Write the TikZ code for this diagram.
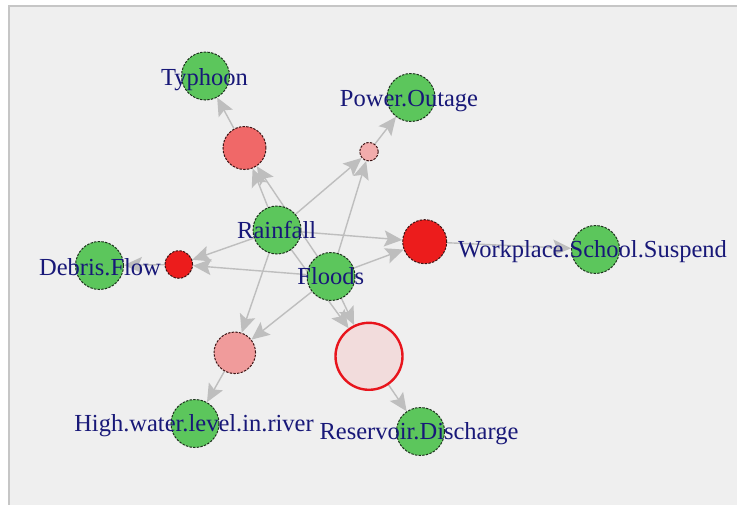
\documentclass[tikz,border=0pt]{standalone}
\usepackage{fontspec}
\setmainfont{Liberation Serif}
\usetikzlibrary{arrows.meta}
\pgfdeclarelayer{back}
\pgfsetlayers{back,main}

\definecolor{panelgray}{RGB}{239,239,239}
\definecolor{panelline}{RGB}{198,198,198}
\definecolor{itemgreen}{RGB}{92,198,92}
\definecolor{itemline}{RGB}{30,50,30}
\definecolor{ruleline}{RGB}{60,20,20}
\definecolor{edgegray}{RGB}{190,190,190}
\definecolor{labelblue}{RGB}{24,24,120}
\definecolor{ruleA}{RGB}{240,104,104}
\definecolor{ruleB}{RGB}{242,172,172}
\definecolor{ruleC}{RGB}{236,28,28}
\definecolor{ruleD}{RGB}{240,155,155}
\definecolor{ruleE}{RGB}{242,220,220}
\definecolor{ruleEline}{RGB}{232,20,28}

\tikzset{
  item/.style={circle, inner sep=0pt, minimum size=48pt, fill=itemgreen,
    draw=itemline, line width=1pt, dash pattern=on 2.4pt off 1.3pt},
  rulenode/.style={circle, inner sep=0pt, draw=ruleline, line width=1pt,
    dash pattern=on 2.4pt off 1.3pt},
  lbl/.style={text=labelblue, inner sep=0pt, anchor=base,
    font=\fontsize{24.5}{29}\selectfont},
  edge/.style={draw=edgegray, line width=1.4pt,
    -{Stealth[length=18pt, width=16pt, inset=3.5pt]}},
}

\begin{document}
\begin{tikzpicture}[x=1pt, y=-1pt]
\useasboundingbox (0,0) rectangle (737,504);
\clip (0,0) rectangle (737,504);

% item vertices
\node[item] (ty)   at (205.5,76) {};
\node[item] (po)   at (411,97.5) {};
\node[item] (rain) at (277,230) {};
\node[item] (fl)   at (331,276.5) {};
\node[item] (ws)   at (595.5,249.5) {};
\node[item] (df)   at (99.5,265.5) {};
\node[item] (hw)   at (195,423.5) {};
\node[item] (rd)   at (420.5,431.5) {};

% rule vertices
\node[rulenode, fill=ruleA, minimum size=43pt] (rTy) at (244.5,148) {};
\node[rulenode, fill=ruleB, minimum size=18.5pt] (rPo) at (369,151.7) {};
\node[rulenode, fill=ruleC, minimum size=44pt] (rWs) at (424.7,241.7) {};
\node[rulenode, fill=ruleC, minimum size=27.5pt] (rDf) at (178.8,264.5) {};
\node[rulenode, fill=ruleD, minimum size=41.5pt] (rHw) at (234.8,352.8) {};
\node[circle, inner sep=0pt, minimum size=67pt, fill=ruleE,
      draw=ruleEline, line width=2.4pt] (rRd) at (369,356.3) {};

% item labels
\node[lbl] (lTy)   at (204.5,85)  {Typhoon};
\node[lbl] (lPo)   at (409,106)   {Power.Outage};
\node[lbl] (lRain) at (276.7,238) {Rainfall};
\node[lbl] (lFl)   at (330.8,284) {Floods};
\node[lbl] (lWs)   at (592.5,257) {Workplace.School.Suspend};
\node[lbl] (lDf)   at (100,275)   {Debris.Flow};
\node[lbl] (lHw)   at (194,431.7) {High.water.level.in.river};
\node[lbl] (lRd)   at (419,439)   {Reservoir.Discharge};

\begin{pgfonlayer}{back}
  % plotting panel
  \fill[white] (0,0) rectangle (737,504);
  \draw[panelline, fill=panelgray, line width=2pt] (9,6) rectangle (760,530);
  % left-hand sides to rules
  \foreach \r in {rTy,rPo,rWs,rDf,rHw,rRd}{
    \draw[edge] (rain) -- (\r);
    \draw[edge] (fl) -- (\r);
  }
  % rules to right-hand sides
  \draw[edge] (rTy) -- (ty);
  \draw[edge] (rPo) -- (po);
  \draw[edge] (rWs) -- (ws);
  \draw[edge] (rDf) -- (df);
  \draw[edge] (rHw) -- (hw);
  \draw[edge] (rRd) -- (rd);
\end{pgfonlayer}
\end{tikzpicture}
\end{document}
